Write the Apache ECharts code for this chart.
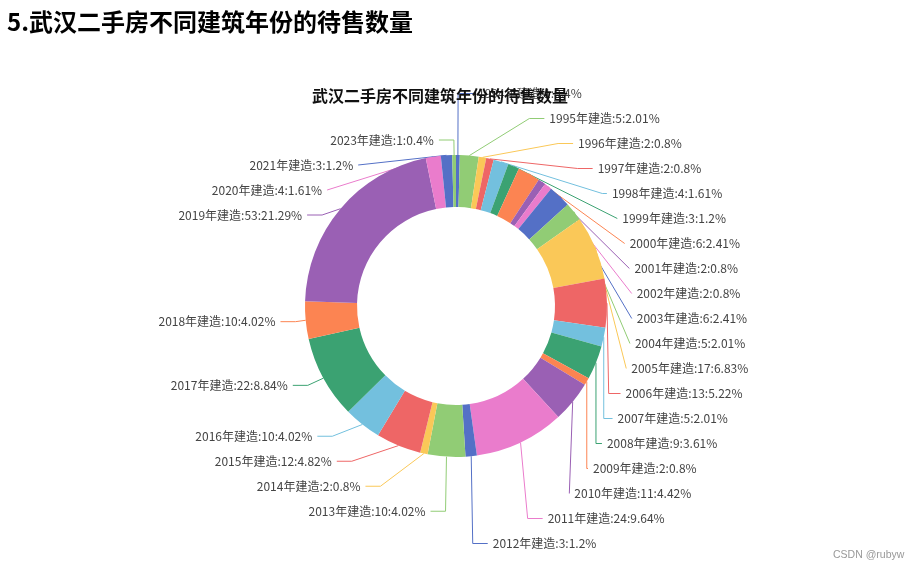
<!DOCTYPE html>
<html>
<head>
<meta charset="utf-8">
<script src="https://cdn.jsdelivr.net/npm/echarts@6/dist/echarts.min.js"></script>
<style>
html,body{margin:0;padding:0;background:#fff;}
#main{width:921px;height:570px;}
</style>
</head>
<body>
<div id="main"></div>
<script>
var years = ['1994','1995','1996','1997','1998','1999','2000','2001','2002','2003','2004','2005','2006','2007','2008','2009','2010','2011','2012','2013','2014','2015','2016','2017','2018','2019','2020','2021','2023'];
var counts = [1,5,2,2,4,3,6,2,2,6,5,17,13,5,9,2,11,24,3,10,2,12,10,22,10,53,4,3,1];
var chartTitle = '武汉二手房不同建筑年份的待售数量';
var pageHeading = '5.武汉二手房不同建筑年份的待售数量';
var watermark = 'CSDN @rubyw';
var palette = ['#5470c6','#91cc75','#fac858','#ee6666','#73c0de','#3ba272','#fc8452','#9a60b4','#ea7ccc'];

var pieData = years.map(function(y, i){ return {name: y + '年建造', value: counts[i]}; });

var chart = echarts.init(document.getElementById('main'));
chart.setOption({
  animation: false,
  color: palette,
  textStyle: {fontFamily: '"Noto Sans CJK SC", "Noto Sans", sans-serif'},
  title: [
    {text: chartTitle, left: 307, top: 83, textStyle: {fontSize: 16, fontWeight: 'bold', color: '#111', fontFamily: '"Noto Sans CJK SC", sans-serif'}},
    {text: pageHeading, left: 2, top: 5, textStyle: {fontSize: 24, fontWeight: 'bold', color: '#000', fontFamily: '"Noto Sans CJK SC", sans-serif'}},
    {text: watermark, left: 828, top: 545, textStyle: {fontSize: 10.5, fontWeight: 'normal', color: '#999', fontFamily: 'Arial, "Liberation Sans", sans-serif'}}
  ],
  series: [{
    type: 'pie',
    left: 0,
    top: 0,
    right: 0,
    bottom: 14,
    center: [456, 306],
    radius: [99, 151],
    startAngle: 90,
    data: pieData,
    label: {formatter: '{b}:{c}:{d}%', fontSize: 12, color: '#444', lineHeight: 23},
    labelLine: {show: true, length: 15, length2: 15}
  }]
});
</script>
</body>
</html>
